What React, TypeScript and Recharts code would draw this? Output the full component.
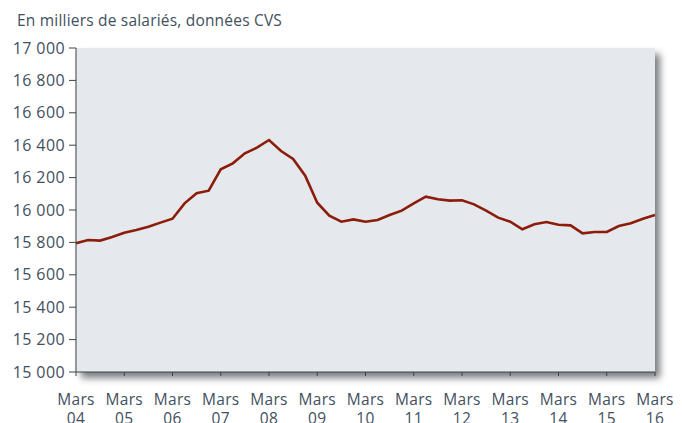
import { LineChart, Line, XAxis, YAxis, ReferenceArea } from 'recharts';

// Emploi salarié, en milliers, données trimestrielles CVS (mars 2004 -> mars 2016)
const quarters = Array.from({ length: 49 }, (_, i) => i);
const salaries = [
  15795, 15815, 15811, 15833, 15860, 15877, 15897, 15922, 15946, 16041,
  16103, 16119, 16251, 16288, 16350, 16385, 16432, 16364, 16315, 16212,
  16045, 15965, 15928, 15942, 15928, 15938, 15969, 15996, 16041, 16082,
  16066, 16058, 16060, 16035, 15996, 15953, 15928, 15881, 15912, 15926,
  15909, 15905, 15856, 15864, 15864, 15901, 15918, 15946, 15969,
];
const yearLabels = ['04', '05', '06', '07', '08', '09', '10', '11', '12', '13', '14', '15', '16'];
const yTicks = [15000, 15200, 15400, 15600, 15800, 16000, 16200, 16400, 16600, 16800, 17000];

const data = quarters.map((q, i) => ({ q, value: salaries[i] }));
const xTicks = yearLabels.map((_, i) => i * 4);

const TEXT = '#42505d';
const FONT = '"Open Sans", sans-serif';

const fmtThousands = (v: number) =>
  String(v).replace(/\B(?=(\d{3})+(?!\d))/g, ' ');

const YearTick = ({ x, y, payload }: { x?: number; y?: number; payload?: { value: number } }) => {
  const label = yearLabels[Math.round((payload?.value ?? 0) / 4)];
  return (
    <g transform={`translate(${x},${y})`}>
      <text textAnchor="middle" fill={TEXT} fontSize={15.5} fontFamily={FONT} letterSpacing={0.3}>
        <tspan x={0} dy={27}>Mars</tspan>
        <tspan x={0} dy={19}>{label}</tspan>
      </text>
    </g>
  );
};

const PlotBg = (p: { x?: number; y?: number; width?: number; height?: number }) => (
  <rect
    x={p.x}
    y={p.y}
    width={p.width}
    height={p.height}
    fill="#e5e8ed"
    filter="url(#plotShadow)"
  />
);

export default function App() {
  return (
    <div style={{ position: 'absolute', left: 0, top: 0, width: 682, height: 423, background: '#fff', overflow: 'hidden' }}>
      <div
        style={{
          position: 'absolute',
          left: 17,
          top: 10,
          fontFamily: FONT,
          fontSize: 15.5,
          letterSpacing: 0.2,
          lineHeight: '20px',
          color: TEXT,
          whiteSpace: 'nowrap',
        }}
      >
        En milliers de salariés, données CVS
      </div>
      <LineChart
        width={682}
        height={423}
        data={data}
        margin={{ top: 48, right: 27, left: 0, bottom: 0 }}
      >
        <defs>
          <filter id="plotShadow" x="-5%" y="-5%" width="115%" height="120%">
            <feDropShadow dx={5} dy={6} stdDeviation={3.5} floodColor="#42464d" floodOpacity={0.7} />
          </filter>
        </defs>
        <ReferenceArea
          x1={0}
          x2={48}
          y1={15000}
          y2={17000}
          shape={<PlotBg />}
          ifOverflow="visible"
        />
        <XAxis
          dataKey="q"
          type="number"
          domain={[0, 48]}
          ticks={xTicks}
          interval={0}
          height={51}
          tickSize={4}
          tickMargin={2}
          stroke="#3d4247"
          tick={<YearTick />}
        />
        <YAxis
          domain={[15000, 17000]}
          ticks={yTicks}
          width={76}
          tickSize={7}
          tickMargin={4}
          stroke="#3d4247"
          tickFormatter={fmtThousands}
          tick={{ fontSize: 16, fill: TEXT, fontFamily: FONT, letterSpacing: 0.4 }}
        />
        <Line
          type="linear"
          dataKey="value"
          stroke="#8c1d0b"
          strokeWidth={2.6}
          dot={false}
          isAnimationActive={false}
        />
      </LineChart>
    </div>
  );
}
